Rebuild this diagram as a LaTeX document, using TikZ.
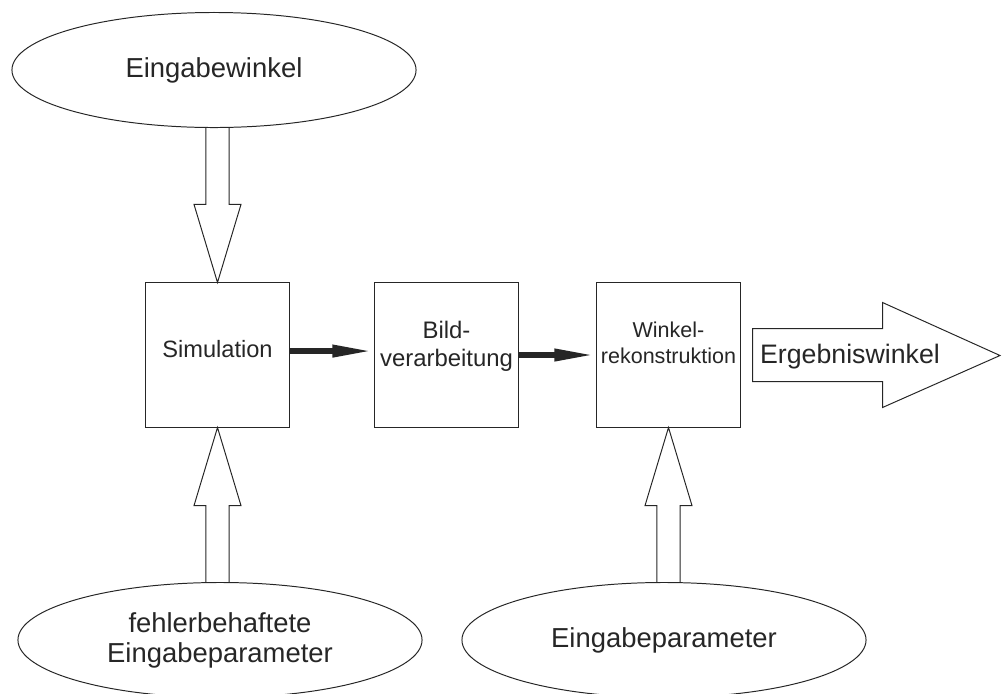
\documentclass[tikz,border=0pt]{standalone}
\usepackage{fontspec}
\setmainfont{Liberation Sans}
\usetikzlibrary{shapes.geometric,arrows.meta,calc}
\definecolor{ink}{HTML}{262626}

\begin{document}
\begin{tikzpicture}[x=0.025cm, y=-0.025cm, line width=0.7pt, color=ink,
  oval/.style={draw, ellipse, minimum width=10.1cm, minimum height=2.875cm,
    inner sep=0pt, align=center, font=\fontsize{19.5}{21.3}\selectfont},
  block/.style={draw, rectangle, minimum width=3.575cm, minimum height=3.6cm,
    inner sep=0pt, align=center},
  flow/.style={line width=4.3pt, -{Triangle[length=30pt, width=8pt]}},
  hollow/.style={to path={let \p1=(\tikztostart), \p2=(\tikztotarget),
    \n1={\y2-sign(\y2-\y1)*55.5} in
    (\x2-8.2pt,\y1) -- (\x2-8.2pt,\n1*1pt) -- (\x2-16.7pt,\n1*1pt) -- (\x2,\y2)
    -- (\x2+16.7pt,\n1*1pt) -- (\x2+8.2pt,\n1*1pt) -- (\x2+8.2pt,\y1)}}]

  \useasboundingbox (0,0) rectangle (1002,693);

  \node[oval] (ein) at (214,70) {Eingabewinkel};
  \node[oval] (fehl) at (220,640) {fehlerbehaftete\\Eingabeparameter};
  \node[oval] (epar) at (664,640) {Eingabeparameter};

  \node[block, text depth=8.6pt, font=\fontsize{16.8}{20}\selectfont] (sim) at (217.5,355) {Simulation};
  \node[block, text depth=16pt, font=\fontsize{17}{20}\selectfont] (bild) at (446.5,355) {Bild-\\verarbeitung};
  \node[block, text depth=17pt, font=\fontsize{15.3}{18.5}\selectfont] (wink) at (668.5,355) {Winkel-\\rekonstruktion};

  \draw[flow] ([yshift=2.8pt]sim.east) -- ([yshift=2.8pt]bild.west);
  \draw[flow] (bild.east) -- (wink.west);

  \draw[hollow] (ein.south) to (sim.north);
  \draw[hollow] (fehl.north) to (sim.south);
  \draw[hollow] (epar.north) to (wink.south);

  \coordinate (end) at (1000,355.5);
  \draw ($(wink.east)+(12,-26.5)$) -- ++(130,0) -- ++(0,-26) -- (end)
    -- ($(wink.east)+(142,52.5)$) -- ++(0,-26) -- ($(wink.east)+(12,26.5)$) -- cycle;
  \node[font=\fontsize{19}{22}\selectfont] (erg) at (850,357) {Ergebniswinkel};

\end{tikzpicture}
\end{document}
